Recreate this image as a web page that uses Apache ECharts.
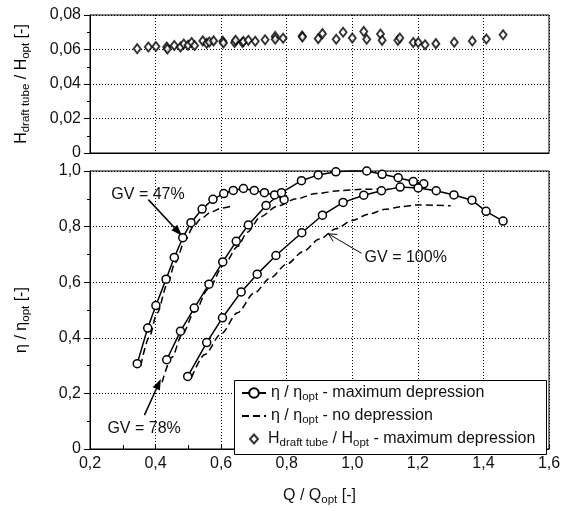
<!DOCTYPE html>
<html><head><meta charset="utf-8">
<script src="https://cdn.jsdelivr.net/npm/echarts@6/dist/echarts.min.js"></script>
<style>html,body{margin:0;padding:0;background:#fff}#c{width:566px;height:511px}</style>
</head><body><div id="c"></div>
<script>
// ---- data ----
const xTickValues = [0.2, 0.4, 0.6, 0.8, 1.0, 1.2, 1.4, 1.6];
const topTickValues = [0, 0.02, 0.04, 0.06, 0.08];
const bottomTickValues = [0, 0.2, 0.4, 0.6, 0.8, 1.0];

// eta / eta_opt, maximum depression (solid with circles)
const gv47Q   = [0.344,0.376,0.401,0.432,0.457,0.483,0.508,0.542,0.575,0.608,0.637,0.668,0.701,0.732,0.763,0.792];
const gv47Eta = [0.307,0.435,0.516,0.611,0.689,0.760,0.814,0.863,0.898,0.919,0.930,0.937,0.930,0.922,0.914,0.897];
const gv78Q   = [0.434,0.476,0.518,0.563,0.605,0.646,0.683,0.737,0.784,0.845,0.896,0.950,1.000,1.044,1.091,1.140,1.186,1.218];
const gv78Eta = [0.321,0.424,0.507,0.593,0.673,0.747,0.806,0.876,0.922,0.965,0.986,0.997,1.001,1.000,0.988,0.976,0.962,0.954];
const gv100Q   = [0.498,0.556,0.604,0.661,0.710,0.767,0.846,0.909,0.972,1.035,1.089,1.146,1.201,1.256,1.310,1.365,1.408,1.460];
const gv100Eta = [0.261,0.383,0.472,0.565,0.629,0.696,0.778,0.841,0.887,0.913,0.929,0.942,0.939,0.929,0.914,0.895,0.855,0.820];

// eta / eta_opt, no depression (dashed)
const nd47Q   = [0.355,0.380,0.405,0.435,0.460,0.490,0.515,0.540,0.570,0.600,0.635];
const nd47Eta = [0.300,0.400,0.490,0.590,0.670,0.750,0.800,0.830,0.853,0.866,0.875];
const nd78Q   = [0.420,0.450,0.480,0.520,0.560,0.610,0.650,0.680,0.720,0.770,0.830,0.890,0.960,1.030,1.110];
const nd78Eta = [0.240,0.330,0.410,0.495,0.575,0.665,0.728,0.780,0.835,0.873,0.900,0.919,0.929,0.934,0.936];
const nd100Q   = [0.510,0.550,0.600,0.650,0.700,0.750,0.800,0.850,0.900,0.950,1.000,1.050,1.100,1.150,1.200,1.250,1.300];
const nd100Eta = [0.258,0.340,0.414,0.490,0.560,0.615,0.665,0.710,0.755,0.792,0.822,0.845,0.862,0.872,0.878,0.877,0.875];

// H_draft tube / H_opt, maximum depression (diamonds)
const hQ = [0.344,0.378,0.401,0.434,0.436,0.457,0.476,0.486,0.499,0.510,0.519,0.544,0.556,0.564,0.577,0.605,0.607,0.641,0.644,0.665,0.668,0.683,0.704,0.734,0.765,0.765,0.789,0.847,0.848,0.896,0.909,0.951,0.972,1.000,1.035,1.044,1.086,1.091,1.139,1.145,1.186,1.201,1.222,1.255,1.311,1.366,1.409,1.460];
const hVal = [0.0605,0.0615,0.0617,0.0615,0.0603,0.0623,0.0615,0.0632,0.0625,0.0640,0.0623,0.0650,0.0636,0.0643,0.0650,0.0648,0.0638,0.0640,0.0653,0.0640,0.0647,0.0653,0.0648,0.0657,0.0676,0.0660,0.0665,0.0678,0.0672,0.0663,0.0692,0.0659,0.0700,0.0667,0.0705,0.0659,0.0690,0.0653,0.0653,0.0667,0.0640,0.0640,0.0628,0.0634,0.0642,0.0649,0.0661,0.0686];

// annotations (data coordinates of bottom panel)
const annTexts = ['GV = 47%', 'GV = 78%', 'GV = 100%'];
const annTextPos = [[0.377, 0.915], [0.365, 0.072], [1.163, 0.687]];
const annArrowFrom = [[0.378, 0.897], [0.366, 0.122], [1.028, 0.704]];
const annArrowTo = [[0.480, 0.768], [0.416, 0.252], [0.927, 0.774]];

// ---- helpers ----
const zip = (a, b) => a.map((v, i) => [v, b[i]]);
const fmtX = (v) => v.toFixed(1).replace('.', ',');
const fmtY1 = (v) => (Math.abs(v) < 1e-9 ? '0' : v.toFixed(1).replace('.', ','));
const fmtY2 = (v) => (Math.abs(v) < 1e-9 ? '0' : v.toFixed(2).replace('.', ','));
const FONT = '"Liberation Sans", Arial, Helvetica, sans-serif';
const FS = 16;

const chart = echarts.init(document.getElementById('c'), null, { renderer: 'canvas' });

const solidStyle = {
  type: 'line', xAxisIndex: 1, yAxisIndex: 1, name: 'max',
  symbol: 'circle', symbolSize: 8, showAllSymbol: true,
  lineStyle: { color: '#000', width: 1.5 },
  itemStyle: { color: '#fff', borderColor: '#000', borderWidth: 1.5 },
  z: 3
};
const dashStyle = {
  type: 'line', xAxisIndex: 1, yAxisIndex: 1, name: 'nodep',
  symbol: 'none', smooth: 0.3, smoothMonotone: 'x',
  lineStyle: { color: '#000', width: 1.5, type: [7, 4] },
  itemStyle: { color: '#000' },
  z: 2
};

const xAxisCommon = {
  type: 'value', min: 0.2, max: 1.6, interval: 0.2,
  axisLine: { show: true, lineStyle: { color: '#000', width: 1 } },
  splitLine: { show: true, lineStyle: { color: '#000', width: 1, type: [1, 2] } },
};
const yAxisCommon = {
  type: 'value',
  axisLine: { show: true, lineStyle: { color: '#000', width: 1 } },
  axisTick: { show: true, inside: false, length: 6, lineStyle: { color: '#000' } },
  minorTick: { show: true, splitNumber: 2, length: 3, lineStyle: { color: '#000' } },
  splitLine: { show: true, lineStyle: { color: '#000', width: 1, type: [1, 2] } },
  axisLabel: { color: '#111', fontFamily: FONT, fontSize: FS, margin: 9 }
};

const richText = {
  n: { fontFamily: FONT, fontSize: FS, color: '#111', lineHeight: 20 },
  s: { fontFamily: FONT, fontSize: 11.5, color: '#111', lineHeight: 13, verticalAlign: 'bottom' }
};
const legendText = {
  max: '{n|η / η}{s|opt}{n| - maximum depression}',
  nodep: '{n|η / η}{s|opt}{n| - no depression}',
  hdt: '{n|H}{s|draft tube}{n| / H}{s|opt}{n| - maximum depression}'
};
const legendBase = {
  orient: 'vertical', padding: 0, itemGap: 0,
  formatter: (name) => legendText[name],
  textStyle: { rich: richText },
  inactiveColor: '#000', selectedMode: false
};

chart.setOption({
  animation: false,
  backgroundColor: '#fff',
  grid: [
    { left: 90, top: 15, right: 17, height: 138, show: true, borderColor: '#000', borderWidth: 1, backgroundColor: 'transparent' },
    { left: 90, top: 171, right: 17, height: 288, show: true, borderColor: '#000', borderWidth: 1, backgroundColor: 'transparent' }
  ],
  xAxis: [
    Object.assign({}, xAxisCommon, { gridIndex: 0, axisLabel: { show: false }, axisTick: { show: false } }),
    Object.assign({}, xAxisCommon, {
      gridIndex: 1,
      axisTick: { show: true, inside: true, length: 5, lineStyle: { color: '#000' } },
      minorTick: { show: true, splitNumber: 2, length: 4, lineStyle: { color: '#000' } },
      axisLabel: { color: '#111', fontFamily: FONT, fontSize: FS, margin: 7, formatter: fmtX },
      name: '{n|Q / Q}{s|opt}{n| [-]}', nameLocation: 'middle', nameGap: 37,
      nameTextStyle: { rich: richText }
    })
  ],
  yAxis: [
    Object.assign({}, yAxisCommon, { gridIndex: 0, min: 0, max: 0.08, interval: 0.02,
      axisLabel: Object.assign({}, yAxisCommon.axisLabel, { formatter: fmtY2 }) }),
    Object.assign({}, yAxisCommon, { gridIndex: 1, min: 0, max: 1.0, interval: 0.2,
      axisLabel: Object.assign({}, yAxisCommon.axisLabel, { formatter: fmtY1 }) })
  ],
  legend: [
    Object.assign({}, legendBase, { data: ['max'], left: 241, top: 385, itemWidth: 24, itemHeight: 12 }),
    Object.assign({}, legendBase, { data: [{ name: 'nodep', itemStyle: { opacity: 0 } }], left: 241, top: 408, itemWidth: 24, itemHeight: 12 }),
    Object.assign({}, legendBase, { data: ['hdt'], left: 249, top: 431, itemWidth: 8, itemHeight: 9,
      textStyle: { rich: richText, padding: [0, 0, 0, 5] } })
  ],
  series: [
    Object.assign({}, dashStyle, { data: zip(nd47Q, nd47Eta) }),
    Object.assign({}, dashStyle, { data: zip(nd78Q, nd78Eta) }),
    Object.assign({}, dashStyle, { data: zip(nd100Q, nd100Eta) }),
    Object.assign({}, solidStyle, { data: zip(gv47Q, gv47Eta) }),
    Object.assign({}, solidStyle, { data: zip(gv78Q, gv78Eta) }),
    Object.assign({}, solidStyle, { data: zip(gv100Q, gv100Eta) }),
    {
      type: 'scatter', name: 'hdt', xAxisIndex: 0, yAxisIndex: 0,
      symbol: 'diamond', symbolSize: [7, 9],
      itemStyle: { color: '#fff', borderColor: '#000', borderWidth: 1.9 },
      data: zip(hQ, hVal)
    }
  ]
});

// ---- graphic: legend box, y-axis names, annotations ----
const px = (p) => chart.convertToPixel({ gridIndex: 1 }, p);
const graphics = [];
graphics.push({
  type: 'rect', z: 3, silent: true,
  shape: { x: 234.5, y: 380.5, width: 312, height: 74 },
  style: { fill: '#fff', stroke: '#000', lineWidth: 1 }
});
graphics.push({
  type: 'text', x: 22, y: 84, rotation: Math.PI / 2, z: 5,
  style: {
    text: '{n|H}{s|draft tube}{n| / H}{s|opt}{n| [-]}', rich: richText,
    align: 'center', verticalAlign: 'middle'
  }
});
graphics.push({
  type: 'text', x: 22, y: 320, rotation: Math.PI / 2, z: 5,
  style: {
    text: '{n|η / η}{s|opt}{n| [-]}', rich: richText,
    align: 'center', verticalAlign: 'middle'
  }
});
annTexts.forEach((t, i) => {
  const tp = px(annTextPos[i]);
  graphics.push({
    type: 'text', x: tp[0], y: tp[1], z: 5,
    style: { text: t, fontFamily: FONT, fontSize: FS, fill: '#111', align: 'center', verticalAlign: 'middle' }
  });
  const a = px(annArrowFrom[i]), b = px(annArrowTo[i]);
  const dx = b[0] - a[0], dy = b[1] - a[1], L = Math.hypot(dx, dy);
  const ux = dx / L, uy = dy / L;
  const filled = i < 2;
  const hl = filled ? 11 : 8, hw = 4;
  const base = [b[0] - ux * hl, b[1] - uy * hl];
  const p1 = [base[0] - uy * hw, base[1] + ux * hw];
  const p2 = [base[0] + uy * hw, base[1] - ux * hw];
  graphics.push({
    type: 'line', z: 5,
    shape: { x1: a[0], y1: a[1], x2: filled ? base[0] : b[0], y2: filled ? base[1] : b[1] },
    style: { stroke: '#000', lineWidth: filled ? 1.5 : 1 }
  });
  if (filled) {
    graphics.push({ type: 'polygon', z: 5, shape: { points: [b, p1, p2] }, style: { fill: '#000' } });
  } else {
    graphics.push({ type: 'polyline', z: 5, shape: { points: [p1, b, p2] }, style: { stroke: '#000', lineWidth: 1, fill: null } });
  }
});
chart.setOption({ graphic: graphics });
</script>
</body></html>
